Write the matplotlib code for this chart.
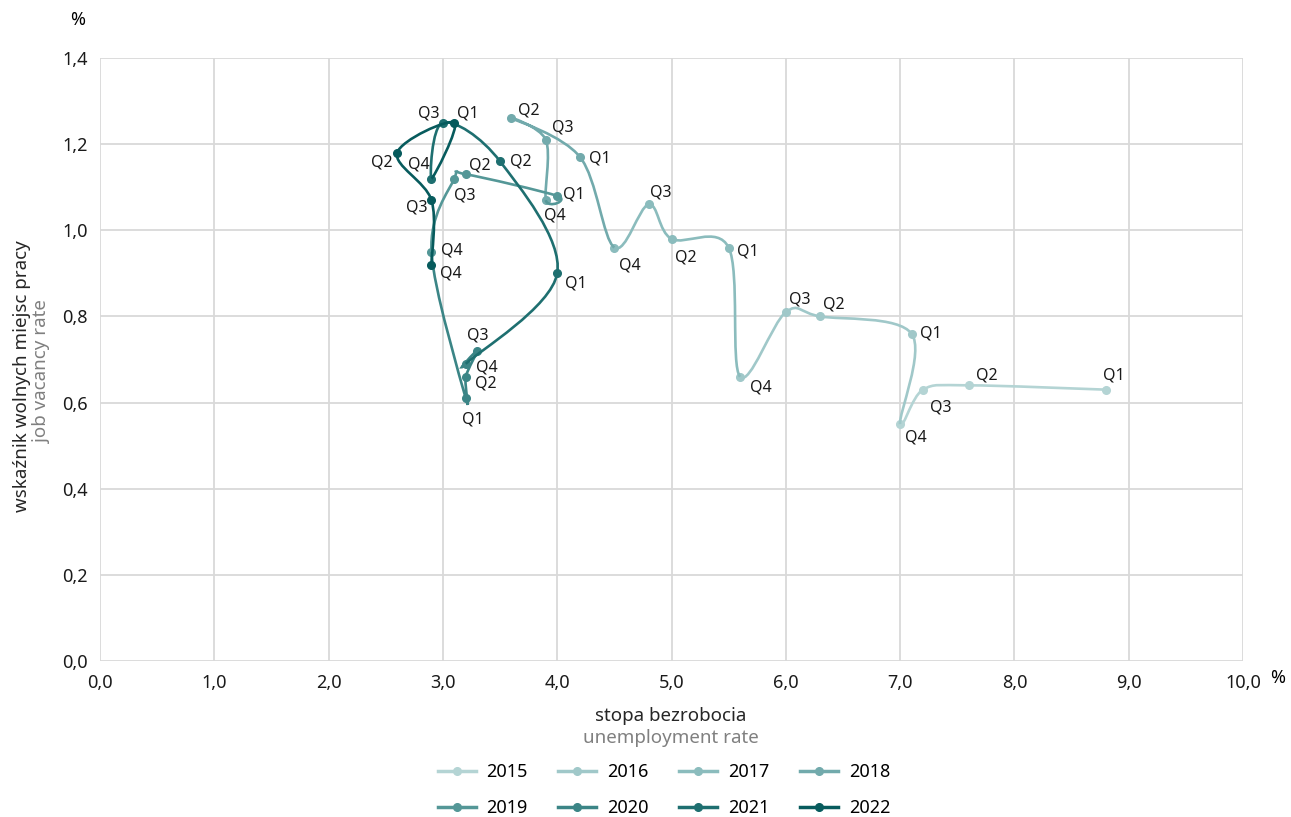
import matplotlib.pyplot as plt
import numpy as np
from matplotlib.path import Path
from matplotlib.patches import PathPatch
from matplotlib.lines import Line2D

plt.rcParams['font.family'] = ['Noto Sans', 'DejaVu Sans']

# Beveridge curve data: unemployment rate (x) and job vacancy rate (y), Q1..Q4
years = [2015, 2016, 2017, 2018, 2019, 2020, 2021, 2022]
quarters = ['Q1', 'Q2', 'Q3', 'Q4']
unemp = [
    [8.8, 7.6, 7.2, 7.0],
    [7.1, 6.3, 6.0, 5.6],
    [5.5, 5.0, 4.8, 4.5],
    [4.2, 3.6, 3.9, 3.9],
    [4.0, 3.2, 3.1, 2.9],
    [3.2, 3.2, 3.3, 3.2],
    [4.0, 3.5, 3.0, 2.9],
    [3.1, 2.6, 2.9, 2.9],
]
vacancy = [
    [0.63, 0.64, 0.63, 0.55],
    [0.76, 0.80, 0.81, 0.66],
    [0.96, 0.98, 1.06, 0.96],
    [1.17, 1.26, 1.21, 1.07],
    [1.08, 1.13, 1.12, 0.95],
    [0.61, 0.66, 0.72, 0.69],
    [0.90, 1.16, 1.25, 1.12],
    [1.25, 1.18, 1.07, 0.92],
]

colors = ['#b4d4d4', '#a0c8c9', '#8bbcbd', '#72aaac',
          '#549797', '#3b8586', '#1e6f70', '#075b5d']

# label offsets in pixels (dx, dy down), per point
label_off = [
    [(8, -14), (18, -10), (18, 18), (16, 13)],
    [(19, 0), (14, -12), (14, -13), (21, 11)],
    [(19, 4), (14, 19), (12, -12), (16, 18)],
    [(20, 1), (17, -8), (17, -12), (9, 15)],
    [(17, -1), (14, -9), (10, 17), (20, -1)],
    [(7, 21), (20, 7), (1, -15), (21, 4)],
    [(19, 10), (21, 0), (-14, -9), (-13, -14)],
    [(14, -9), (-15, 10), (-15, 7), (19, 9)],
]

# whole path as one sequence for smooth tangents
px = np.array([v for row in unemp for v in row])
py = np.array([v for row in vacancy for v in row])
pts = np.column_stack([px, py])
n = len(pts)


def seg_path(i):
    p0 = pts[max(i - 1, 0)]
    p1 = pts[i]
    p2 = pts[i + 1]
    p3 = pts[min(i + 2, n - 1)]
    c1 = p1 + (p2 - p0) / 6
    c2 = p2 - (p3 - p1) / 6
    return [p1, c1, c2, p2]


fig = plt.figure(figsize=(12.91, 8.17), dpi=100)
ax = fig.add_axes([100 / 1291, 1 - 661 / 817, 1143 / 1291, 603 / 817])

for k, yr in enumerate(years):
    verts, codes = [], []
    start = k * 4 - 1 if k > 0 else 0
    for i in range(start, k * 4 + 3):
        v = seg_path(i)
        if not verts:
            verts.append(v[0])
            codes.append(Path.MOVETO)
        verts += v[1:]
        codes += [Path.CURVE4] * 3
    ax.add_patch(PathPatch(Path(verts, codes), facecolor='none',
                           edgecolor=colors[k], lw=1.9, zorder=3 + k))
    ax.plot(unemp[k], vacancy[k], 'o', color=colors[k], ms=5.5, zorder=3 + k)
    for q in range(4):
        dx, dy = label_off[k][q]
        ax.annotate(quarters[q], (unemp[k][q], vacancy[k][q]), xytext=(dx, -dy),
                    textcoords='offset pixels', ha='center', va='center',
                    fontsize=11.5, color='#1a1a1a', zorder=20)

ax.set_xlim(0, 10)
ax.set_ylim(0, 1.4)
xt = np.arange(0, 11, 1)
yt = np.arange(0, 1.41, 0.2)
ax.set_xticks(xt)
ax.set_xticklabels([f'{v:.1f}'.replace('.', ',') for v in xt])
ax.set_yticks(yt)
ax.set_yticklabels([f'{v:.1f}'.replace('.', ',') for v in yt])
ax.grid(True, color='#d9d9d9', lw=1.3)
ax.set_axisbelow(True)
for s in ax.spines.values():
    s.set_visible(False)
ax.tick_params(length=0, labelsize=13, colors='#1a1a1a', pad=9)

fig.text(78 / 1291, 1 - 20 / 817, '%', fontsize=13, ha='center', va='center')
fig.text(1278 / 1291, 1 - 678 / 817, '%', fontsize=13, ha='center', va='center')

fig.text(671 / 1291, 1 - 716 / 817, 'stopa bezrobocia', fontsize=13.5,
         ha='center', va='center', color='#262626')
fig.text(671 / 1291, 1 - 738 / 817, 'unemployment rate', fontsize=13.5,
         ha='center', va='center', color='#808080')
fig.text(22 / 1291, 1 - 376 / 817, 'wskaźnik wolnych miejsc pracy', fontsize=13.5,
         rotation=90, ha='center', va='center', color='#262626')
fig.text(42 / 1291, 1 - 372 / 817, 'job vacancy rate', fontsize=13.5,
         rotation=90, ha='center', va='center', color='#808080')

# legend is filled column by column, so reorder to read row by row
order = [0, 4, 1, 5, 2, 6, 3, 7]
handles = [Line2D([], [], color=colors[i], lw=2.5, marker='o', ms=5.5) for i in order]
labels = [str(years[i]) for i in order]
fig.legend(handles, labels, ncol=4, frameon=False,
           loc='center', bbox_to_anchor=(664 / 1291, 1 - 790 / 817),
           fontsize=13, handlelength=2.1, handletextpad=0.6,
           columnspacing=1.7, labelspacing=1.0)

fig.savefig('out.png', dpi=100)
